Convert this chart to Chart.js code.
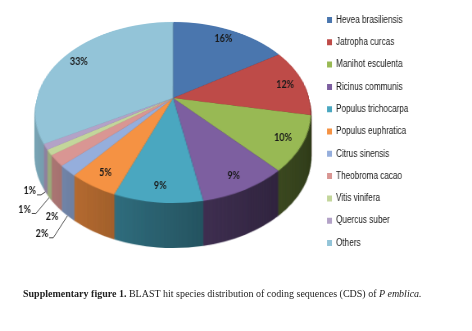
<!DOCTYPE html>
<html>
<head>
<meta charset="utf-8">
<script src="https://cdn.jsdelivr.net/npm/chart.js@4.4.1/dist/chart.umd.min.js"></script>
<style>
  html, body { margin: 0; padding: 0; background: #fff; }
  #wrap { position: relative; width: 472px; height: 331px; }
  /* the chart is drawn wide and squeezed to 472px, like the figure in the paper */
  #chart { width: 472px; height: 331px; }
  #caption {
    position: absolute; left: 23px; top: 288px;
    font-family: 'Liberation Serif', 'Times New Roman', serif;
    font-size: 10px; line-height: 12px; color: #222; white-space: nowrap;
  }
</style>
</head>
<body>
<div id="wrap">
  <canvas id="chart" width="576" height="331" style="width:472px;height:331px"></canvas>
  <div id="caption"><b>Supplementary figure 1.</b> BLAST hit species distribution of coding sequences (CDS) of <i>P emblica.</i></div>
</div>
<script>
// Data
const species = [
	'Hevea brasiliensis',
	'Jatropha curcas',
	'Manihot esculenta',
	'Ricinus communis',
	'Populus trichocarpa',
	'Populus euphratica',
	'Citrus sinensis',
	'Theobroma cacao',
	'Vitis vinifera',
	'Quercus suber',
	'Others',
];
const shares = [16, 12, 10, 9, 9, 5, 2, 2, 1, 1, 33];
const sliceColors = [
	'#4a76ae', '#be4b48', '#98b954', '#7d5fa0', '#4aa7c0', '#f59243',
	'#95aedc', '#d99693', '#c3d69b', '#b3a2c7', '#93c4d8',
];

// canvas px -> screen px (horizontal squeeze)
const squeeze = 472 / 576;

// 3D look (canvas px): pie centre, radii of the tilted disc, perspective, thickness
const view = { x: 173 / squeeze, y: 98, rx: 136.2 / squeeze, ry: 88.2, tilt: -0.16, depth: 45 };

// small slices get their label outside with a leader line (like Excel's best fit)
const outsideLabels = {
	6: { dx: -31, dy: 18, leader: true },
	7: { dx: -5, dy: 11, leader: false },
	8: { dx: -30, dy: 12, leader: true },
	9: { dx: -19, dy: -1, leader: true },
};

const labelFont = "bold 11px Lato, 'Liberation Sans', sans-serif";
const legendFont = { family: "'Liberation Sans', Arial, sans-serif", size: 10 };
const legendBox = 6;
const legendLeft = 327 / squeeze;

function shade(hex, f) {
	const n = parseInt(hex.slice(1), 16);
	const r = Math.round(((n >> 16) & 255) * f);
	const g = Math.round(((n >> 8) & 255) * f);
	const b = Math.round((n & 255) * f);
	return `rgb(${r},${g},${b})`;
}

// u, v on the unit disc -> canvas
function project(u, v) {
	const k = 1 + view.tilt * v;
	return { x: view.x + (view.rx * u) / k, y: view.y + (view.ry * v) / k };
}

// copy the flat pie row by row into the perspective disc
function warp(src, dst, cx, cy, r) {
	const top = Math.floor(project(0, -1).y) - 2;
	const bottom = Math.ceil(project(0, 1).y) + 2;
	for (let y = top; y <= bottom; y++) {
		const t = (y + 0.5 - view.y) / view.ry;
		const v = t / (1 - t * view.tilt);
		if (v < -1.03 || v > 1.03) continue;
		const k = 1 + view.tilt * v;
		const half = view.rx / k;
		const sh = r / (view.ry * Math.pow(1 - t * view.tilt, 2));
		dst.drawImage(src, cx - r, cy + v * r - sh / 2, 2 * r, sh, view.x - half, y, 2 * half, 1);
	}
}

function layer(w, h) {
	const c = document.createElement('canvas');
	c.width = w;
	c.height = h;
	return c;
}

// right padding that puts the legend boxes at legendLeft
function legendPadding(canvasWidth) {
	const c = layer(10, 10).getContext('2d');
	c.font = `${legendFont.size}px ${legendFont.family}`;
	const widest = Math.max(...species.map((s) => c.measureText(s).width));
	const itemWidth = legendBox + legendFont.size / 2 + widest;
	return canvasWidth - 10 - itemWidth - legendLeft;
}

const pie3d = {
	id: 'pie3d',
	beforeDatasetsDraw(chart) {
		const ctx = chart.ctx;
		const arcs = chart.getDatasetMeta(0).data;
		const { x: cx, y: cy, outerRadius: r } = arcs[0];
		const w = chart.canvas.width;
		const h = chart.canvas.height;

		// flat top face
		const topSrc = layer(w, h);
		arcs.forEach((arc) => arc.draw(topSrc.getContext('2d')));

		// flat side colours, darker to the right
		const sideSrc = layer(w, h);
		const sctx = sideSrc.getContext('2d');
		arcs.forEach((arc, i) => {
			const grad = sctx.createLinearGradient(cx - r, 0, cx + r, 0);
			grad.addColorStop(0, shade(sliceColors[i], 0.85));
			grad.addColorStop(0.5, shade(sliceColors[i], 0.55));
			grad.addColorStop(1, shade(sliceColors[i], 0.33));
			const opts = arc.options;
			arc.options = { ...opts, backgroundColor: grad };
			arc.draw(sctx);
			arc.options = opts;
		});
		const sideWarp = layer(w, h);
		warp(sideSrc, sideWarp.getContext('2d'), cx, cy, r);

		for (let d = view.depth; d >= 1; d--) ctx.drawImage(sideWarp, 0, d);
		warp(topSrc, ctx, cx, cy, r);

		// percentage labels
		const total = shares.reduce((a, b) => a + b, 0);
		ctx.save();
		ctx.font = labelFont;
		ctx.fillStyle = '#1a1a1a';
		ctx.strokeStyle = '#333';
		ctx.lineWidth = 0.9;
		ctx.textAlign = 'center';
		ctx.textBaseline = 'middle';
		arcs.forEach((arc, i) => {
			const mid = (arc.startAngle + arc.endAngle) / 2;
			const text = Math.round((shares[i] / total) * 100) + '%';
			const u = Math.cos(mid);
			const v = Math.sin(mid);
			const out = outsideLabels[i];
			if (!out) {
				const p = project(u * 0.86, v * 0.86);
				ctx.fillText(text, p.x, p.y);
				return;
			}
			const rim = project(u, v);
			const ax = rim.x;
			const ay = rim.y + view.depth;
			const lx = ax + out.dx;
			const ly = ay + out.dy;
			ctx.fillText(text, lx, ly);
			if (out.leader) {
				const tw = ctx.measureText(text).width;
				ctx.beginPath();
				ctx.moveTo(lx + tw / 2 + 1, ly + 4);
				ctx.lineTo(lx + tw / 2 + 6, ly + 4);
				ctx.lineTo(ax, ay);
				ctx.stroke();
			}
		});
		ctx.restore();
		return false;
	},
};

const canvas = document.getElementById('chart');

new Chart(canvas, {
	type: 'pie',
	data: {
		labels: species,
		datasets: [
			{
				data: shares,
				backgroundColor: sliceColors,
				borderWidth: 0,
			},
		],
	},
	options: {
		responsive: false,
		devicePixelRatio: 1,
		animation: false,
		events: [],
		layout: {
			padding: { top: 0, right: legendPadding(canvas.width), bottom: 68, left: 0 },
		},
		plugins: {
			tooltip: { enabled: false },
			legend: {
				position: 'right',
				align: 'center',
				labels: {
					boxWidth: legendBox,
					boxHeight: legendBox,
					padding: 12.3,
					color: '#1a1a1a',
					font: legendFont,
				},
			},
		},
	},
	plugins: [pie3d],
});
</script>
</body>
</html>
